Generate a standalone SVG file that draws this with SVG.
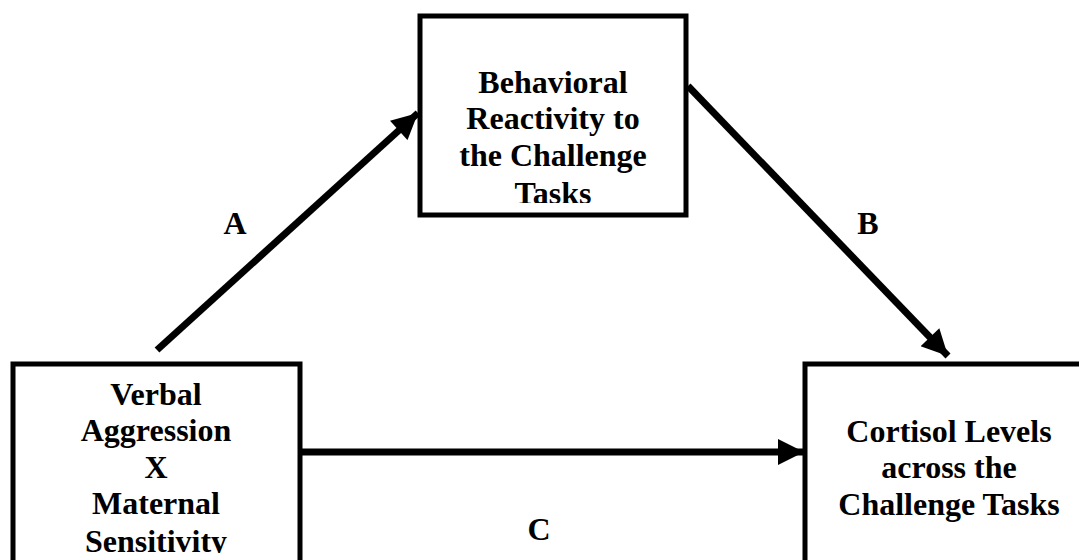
<svg xmlns="http://www.w3.org/2000/svg" width="1079" height="560" viewBox="0 0 1079 560">
<style>
.box{fill:#fff;stroke:#000;stroke-width:5}
.t{font-family:"Liberation Serif","Times New Roman",serif;font-weight:bold;font-size:32px;fill:#000;text-anchor:middle}
.lbl{font-family:"Liberation Serif","Times New Roman",serif;font-weight:bold;font-size:32px;fill:#000;text-anchor:middle}
.c{stroke:#000;stroke-width:7;fill:none}
</style>
<defs>
<marker id="ah" markerUnits="userSpaceOnUse" markerWidth="30" markerHeight="26" refX="24" refY="12" orient="auto" viewBox="0 0 26 24">
<path d="M0,0 L24,12 L0,24 Z" fill="#000"/>
</marker>
<clipPath id="clipTop"><rect x="420" y="16" width="266" height="187"/></clipPath>
<clipPath id="clipLeft"><rect x="13" y="364" width="287" height="189"/></clipPath>
</defs>
<rect width="1079" height="560" fill="#fff"/>
<g id="connectors">
<line class="c" x1="157" y1="350" x2="418" y2="113" marker-end="url(#ah)"/>
<line class="c" x1="688" y1="86" x2="948" y2="356" marker-end="url(#ah)"/>
<line class="c" x1="300" y1="452" x2="804" y2="452" marker-end="url(#ah)"/>
</g>
<g id="node-behavioral">
<rect class="box" x="420" y="16" width="266" height="199"/>
<g clip-path="url(#clipTop)">
<text class="t" x="553" y="93">Behavioral</text>
<text class="t" x="553" y="129">Reactivity to</text>
<text class="t" x="553" y="166">the Challenge</text>
<text class="t" x="553" y="204">Tasks</text>
</g>
</g>
<g id="node-verbal">
<rect class="box" x="13" y="364" width="287" height="220"/>
<g clip-path="url(#clipLeft)">
<text class="t" x="156" y="405">Verbal</text>
<text class="t" x="156" y="441">Aggression</text>
<text class="t" x="156" y="478">X</text>
<text class="t" x="156" y="514">Maternal</text>
<text class="t" x="156" y="552">Sensitivity</text>
</g>
</g>
<g id="node-cortisol">
<rect class="box" x="805" y="364" width="300" height="220"/>
<text class="t" x="949" y="442">Cortisol Levels</text>
<text class="t" x="949" y="478">across the</text>
<text class="t" x="949" y="515">Challenge Tasks</text>
</g>
<g id="labels">
<text class="lbl" x="235" y="234">A</text>
<text class="lbl" x="868" y="234">B</text>
<text class="lbl" x="539" y="540">C</text>
</g>
</svg>
